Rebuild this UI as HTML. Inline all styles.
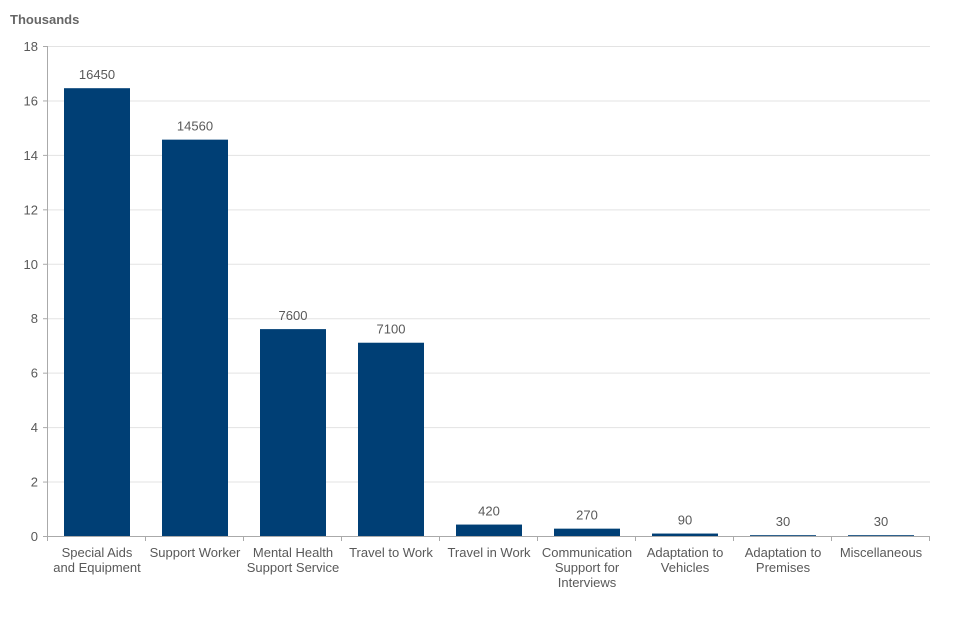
<!DOCTYPE html>
<html><head><meta charset="utf-8"><style>
body{margin:0;background:#fff;}
svg{display:block;font-family:"Liberation Sans",Arial,sans-serif;}
</style></head><body>
<svg id="chart" width="960" height="640">
<text x="10" y="24" font-size="13" font-weight="bold" fill="#666">Thousands</text>
<g id="grid"></g><g id="bars"></g><g id="axes"></g>
</svg>
<script>
const categories=[["Special Aids","and Equipment"],["Support Worker"],["Mental Health","Support Service"],["Travel to Work"],["Travel in Work"],["Communication","Support for","Interviews"],["Adaptation to","Vehicles"],["Adaptation to","Premises"],["Miscellaneous"]];
const values=[16450,14560,7600,7100,420,270,90,30,30];
const yTicks=[0,2,4,6,8,10,12,14,16,18];
const NS="http://www.w3.org/2000/svg";
const x0=48,x1=930,y0=536,yTop=46,yMax=18;
const band=(x1-x0)/categories.length;
function y(v){return y0-(v/yMax)*(y0-yTop);}
function bx(i){return x0+band*i;}
function mk(tag,attrs,parent,text){const e=document.createElementNS(NS,tag);for(const k in attrs)e.setAttribute(k,attrs[k]);if(text!==undefined)e.textContent=text;parent.appendChild(e);return e;}
const grid=document.getElementById('grid'),bars=document.getElementById('bars'),axes=document.getElementById('axes');
yTicks.forEach(t=>{
 if(t>0){const g=mk('line',{x1:x0,x2:x1,y1:y(t)+0.5,y2:y(t)+0.5,stroke:'#e3e3e3'},grid);
 
 }
 mk('line',{x1:x0-5,x2:x0,y1:y(t)+0.5,y2:y(t)+0.5,stroke:'#aaa'},axes);
 const l=mk('text',{x:x0-10,y:y(t)+5,'text-anchor':'end','font-size':13,fill:'#595959'},axes,t);
 
 
});
mk('line',{x1:x0-0.5,x2:x0-0.5,y1:yTop,y2:y0,stroke:'#aaa'},axes);
mk('line',{x1:x0,x2:x1,y1:y0+0.5,y2:y0+0.5,stroke:'#aaa'},axes);
for(let i=0;i<=categories.length;i++)mk('line',{x1:bx(i)-0.5,x2:bx(i)-0.5,y1:y0,y2:y0+5,stroke:'#aaa'},axes);
values.forEach((v,i)=>{
 const cx=bx(i)+band/2,bw=66,vy=y(v/1000);
 const r=mk('rect',{x:cx-bw/2,y:vy,width:bw,height:Math.max(0,y0-vy),fill:'#003f75'},bars);
 
 
 const t=mk('text',{x:cx,y:vy-9,'text-anchor':'middle','font-size':13,fill:'#595959'},bars,v);
 
 
 const c=mk('text',{'text-anchor':'middle','font-size':13,fill:'#595959'},axes);
 
 
 categories[i].forEach((line,j)=>mk('tspan',{x:cx,y:557+j*15},c,line));
});
</script>
</body></html>
